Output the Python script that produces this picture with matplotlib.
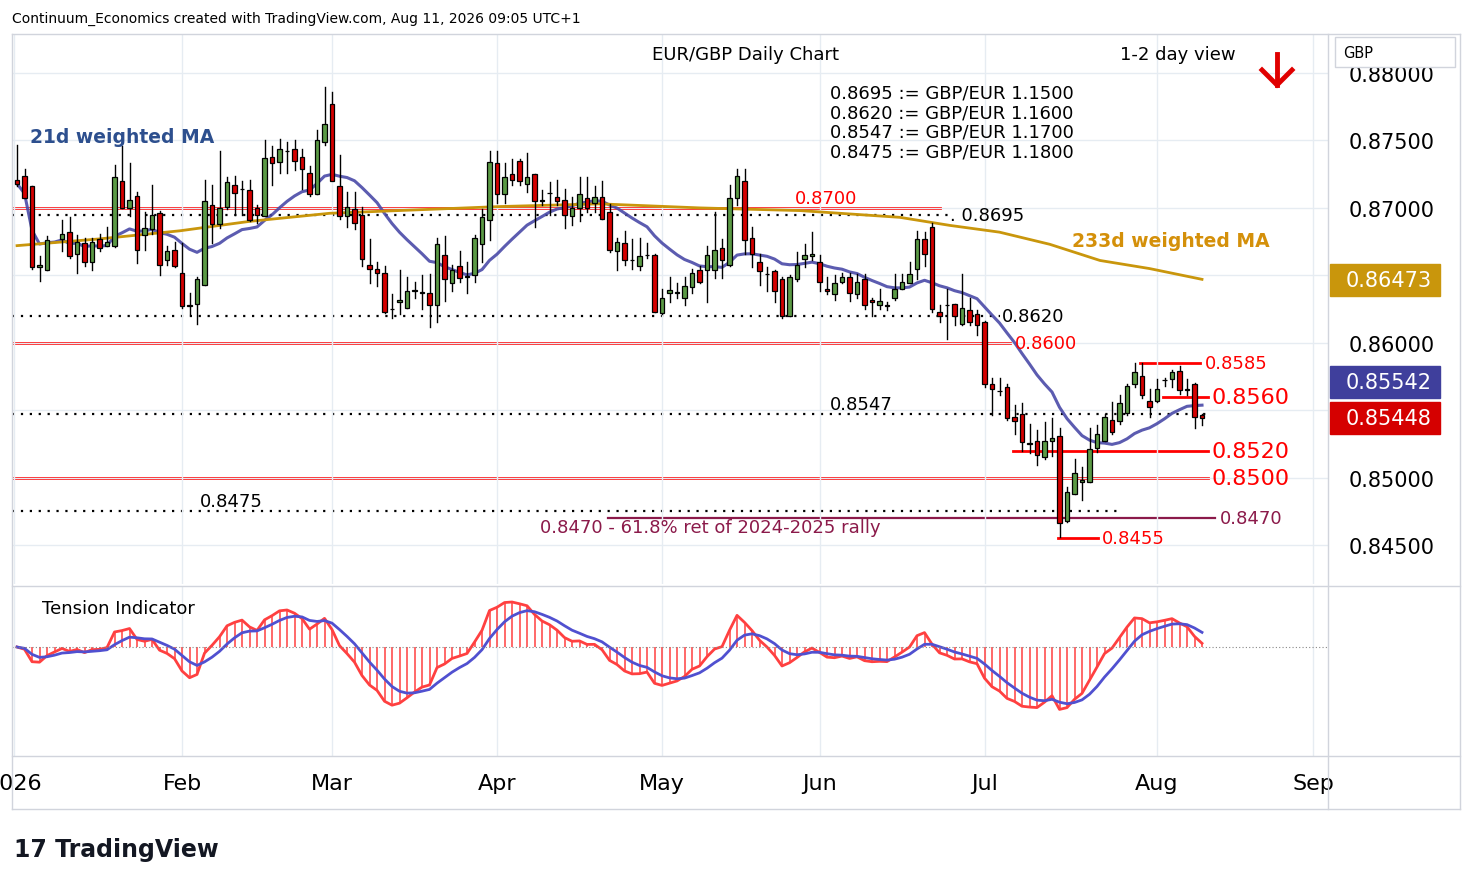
import numpy as np
import pandas as pd
import matplotlib
matplotlib.use("Agg")
import matplotlib.pyplot as plt
from matplotlib.patches import Rectangle

# daily OHLC, EUR/GBP, one row per trading day (None = no candle drawn)
opens = [.8721,.8724,.8716,.8656,.8654,None,.8677,.8682,.8666,.8674,.8660,.8677,.8672,.8672,.8720,.8700,.8709,.8680,.8684,.8696,
         .8661,.8669,.8652,.8628,.8629,.8643,.8702,.8688,.8701,.8717,.8714,.8713,.8700,.8694,.8738,.8734,.8742,.8744,.8738,.8726,
         .8710,.8749,.8777,.8716,.8694,.8699,.8695,.8658,.8655,.8652,.8625,.8630,.8626,.8638,.8637,.8637,.8628,.8665,.8644,.8657,
         .8649,.8650,.8673,.8691,.8733,.8710,.8725,.8735,.8718,.8725,.8705,.8711,.8708,.8706,.8694,.8700,.8707,.8704,.8708,.8697,
         .8668,.8674,.8661,.8657,.8665,.8665,.8622,.8637,.8637,.8633,.8641,.8654,.8654,.8654,.8670,.8658,.8707,.8720,.8678,.8660,
         .8651,.8653,.8647,.8620,.8647,.8662,.8664,.8660,.8640,.8636,.8645,.8649,.8636,.8647,.8632,.8628,.8628,.8633,.8640,.8644,
         .8655,.8677,.8686,.8623,.8628,.8629,.8614,.8624,.8621,.8615,.8569,.8564,.8567,.8545,.8547,.8525,.8527,.8515,.8527,.8531,
         .8468,.8488,.8497,.8497,.8522,.8527,.8543,.8542,.8548,.8569,.8575,.8557,.8557,.8572,.8573,.8579,.8565,.8569,.8546]
closes = [.8718,.8707,.8656,.8658,.8676,None,.8681,.8664,.8675,.8660,.8675,.8670,.8675,.8723,.8700,.8706,.8669,.8685,.8695,.8658,
          .8668,.8657,.8627,.8627,.8647,.8705,.8688,.8700,.8719,.8711,.8714,.8691,.8695,.8737,.8733,.8744,.8742,.8735,.8729,.8710,
          .8750,.8762,.8720,.8694,.8701,.8689,.8662,.8655,.8652,.8623,.8625,.8632,.8638,.8639,.8637,.8628,.8673,.8647,.8654,.8648,
          .8649,.8678,.8693,.8734,.8710,.8723,.8721,.8720,.8723,.8705,.8706,.8711,.8705,.8695,.8700,.8710,.8700,.8708,.8692,.8669,
          .8675,.8661,.8661,.8664,.8665,.8623,.8633,.8639,.8637,.8642,.8652,.8645,.8665,.8669,.8661,.8707,.8724,.8676,.8666,.8653,
          .8651,.8638,.8620,.8649,.8658,.8665,.8666,.8645,.8638,.8644,.8649,.8637,.8645,.8628,.8630,.8631,.8627,.8640,.8645,.8651,
          .8677,.8666,.8625,.8620,.8628,.8620,.8626,.8615,.8613,.8569,.8566,.8564,.8544,.8542,.8526,.8525,.8517,.8527,.8529,.8466,
          .8489,.8503,.8498,.8521,.8532,.8545,.8534,.8555,.8568,.8578,.8561,.8552,.8566,.8572,.8578,.8565,.8565,.8545,.8544]
highs = [.8747,.8729,.8716,.8664,.8679,None,.8691,.8693,.8680,.8678,.8678,.8681,.8686,.8732,.8746,.8733,.8712,.8697,.8717,.8698,
         .8672,.8675,.8674,.8637,.8649,.8721,.8717,.8742,.8723,.8724,.8720,.8721,.8702,.8750,.8746,.8751,.8749,.8750,.8744,.8731,
         .8758,.8790,.8786,.8739,.8712,.8712,.8701,.8677,.8660,.8657,.8636,.8654,.8649,.8645,.8650,.8651,.8678,.8679,.8658,.8668,
         .8660,.8680,.8699,.8742,.8742,.8733,.8736,.8736,.8741,.8725,.8713,.8719,.8721,.8714,.8708,.8723,.8723,.8716,.8720,.8703,
         .8678,.8683,.8677,.8678,.8674,.8666,.8640,.8649,.8644,.8649,.8655,.8657,.8672,.8697,.8677,.8717,.8729,.8729,.8686,.8666,
         .8656,.8654,.8649,.8650,.8667,.8673,.8682,.8665,.8649,.8650,.8652,.8652,.8651,.8651,.8633,.8640,.8630,.8651,.8651,.8660,
         .8683,.8682,.8689,.8628,.8640,.8629,.8651,.8633,.8624,.8616,.8574,.8574,.8569,.8554,.8555,.8540,.8535,.8541,.8544,.8537,
         .8493,.8514,.8508,.8537,.8539,.8547,.8556,.8561,.8569,.8585,.8585,.8566,.8573,.8574,.8580,.8583,.8573,.8570,.8547]
lows = [.8716,.8707,.8655,.8646,.8654,None,.8668,.8663,.8652,.8657,.8654,.8668,.8672,.8671,.8700,.8694,.8659,.8669,.8681,.8650,
        .8658,.8656,.8626,.8621,.8614,.8643,.8674,.8685,.8699,.8695,.8695,.8690,.8689,.8694,.8717,.8726,.8726,.8728,.8714,.8709,
        .8710,.8747,.8721,.8692,.8686,.8684,.8657,.8644,.8642,.8622,.8618,.8621,.8626,.8633,.8625,.8612,.8615,.8631,.8638,.8645,
        .8637,.8645,.8660,.8676,.8704,.8704,.8717,.8717,.8712,.8686,.8702,.8695,.8702,.8685,.8687,.8690,.8697,.8697,.8692,.8667,
        .8654,.8658,.8655,.8654,.8663,.8623,.8621,.8630,.8633,.8628,.8637,.8644,.8630,.8648,.8648,.8657,.8702,.8666,.8656,.8643,
        .8638,.8630,.8618,.8620,.8646,.8656,.8661,.8638,.8636,.8632,.8644,.8631,.8633,.8625,.8620,.8625,.8624,.8632,.8640,.8644,
        .8647,.8657,.8623,.8615,.8603,.8613,.8613,.8613,.8606,.8567,.8546,.8561,.8543,.8532,.8520,.8518,.8509,.8514,.8516,.8456,
        .8467,.8488,.8483,.8497,.8519,.8527,.8532,.8540,.8546,.8567,.8559,.8545,.8556,.8568,.8567,.8562,.8561,.8537,.8539]

# 233d weighted MA at a few days (day index, value)
ma233_days = [0, 11, 21.7, 31, 41.7, 64.4, 77.7, 91, 104.4, 117.7, 124.4, 131, 137.7, 144.4, 151, 158]
ma233_vals = [.8672, .8677, .8683, .8690, .8696, .8701, .8703, .8700, .8698, .8693, .8687, .8682, .8673, .8661, .8655, .8647]

months = ["2026", "Feb", "Mar", "Apr", "May", "Jun", "Jul", "Aug", "Sep"]
month_pos = [-0.4, 22, 42, 64, 86, 107, 129, 152, 172.8]
price_ticks = [0.845, 0.850, 0.860, 0.870, 0.875, 0.880]   # 0.855/0.865 hidden by value boxes
last_labels = ["0.86473", "0.85542", "0.85448"]

df = pd.DataFrame({"o": opens, "h": highs, "l": lows, "c": closes}, dtype=float)
n = len(df)
idx = np.arange(n)

# 21d weighted MA (shorter window at the start)
c = df["c"].ffill().values
wma = np.empty(n)
for i in range(n):
    w = np.arange(1, min(21, i + 1) + 1)
    seg = c[i - len(w) + 1:i + 1]
    wma[i] = np.sum(seg * w) / w.sum()

# tension indicator
tens = pd.Series(c - wma).ewm(span=5).mean()
tens_sig = tens.ewm(span=6).mean()

W, H = 1474, 887
fig = plt.figure(figsize=(W / 100, H / 100), dpi=100)
fig.patch.set_facecolor("white")

def fx(px):
    return px / W

def fy(py):
    return 1 - py / H

ax = fig.add_axes([fx(12), fy(585), fx(1316), (585 - 35) / H])
ax2 = fig.add_axes([fx(12), fy(757), fx(1316), (757 - 588) / H], sharex=ax)

xmin, xmax = -0.67, 174.8
grid_c = "#e6ecf2"

for i in range(n):
    if np.isnan(df.o[i]):
        continue
    o, h, l, cl = df.o[i], df.h[i], df.l[i], df.c[i]
    col = "#5b9a45" if cl >= o else "#d50000"
    ax.plot([i, i], [l, h], color="black", lw=1, zorder=3)
    body = max(abs(cl - o), 0.00003)
    ax.add_patch(Rectangle((i - 0.3, min(o, cl)), 0.6, body, facecolor=col,
                           edgecolor="black", lw=0.9, zorder=4))

ax.plot(idx, wma, color="#4a4aa8", lw=2.2, alpha=0.9, zorder=2)
ax.plot(ma233_days, ma233_vals, color="#c9960c", lw=2, zorder=2)

def xi(px):
    return (px - 17) / 7.5

def hline(p, x0, x1, **kw):
    ax.plot([xi(x0), xi(x1)], [p, p], **kw)

dot = dict(color="black", lw=1.6, ls=(0, (1, 3)), zorder=1.5)
red = dict(color="#ff0000", lw=2, zorder=1.5)
hline(0.8700, 12, 940, **red)
hline(0.8695, 12, 950, **dot)
hline(0.8620, 12, 1000, **dot)
hline(0.8600, 12, 1010, **red)
hline(0.8585, 1140, 1200, **red)
hline(0.8560, 1163, 1208, **red)
hline(0.8547, 12, 1210, **dot)
hline(0.8520, 1013, 1208, **red)
hline(0.8500, 12, 1208, **red)
hline(0.8475, 12, 1120, **dot)
hline(0.8470, 608, 1215, color="#8b1a4a", lw=1.6, zorder=1.5)
hline(0.8455, 1058, 1098, **red)

def lab(px, p, s, color="black", size=12.5, va="center", **kw):
    ax.text(xi(px), p, s, color=color, fontsize=size, va=va, ha="left", **kw)

lab(795, 0.8701, "0.8700", "#ff0000", 13, va="bottom")
lab(950, 0.8695, ". 0.8695", "black", 13)
lab(1002, 0.8620, "0.8620", "black", 13)
lab(1015, 0.8600, "0.8600", "#ff0000", 13)
lab(1205, 0.8585, "0.8585", "#ff0000", 13)
lab(1211, 0.8560, "0.8560", "#ff0000", 16)
lab(830, 0.8548, "0.8547", "black", 13, va="bottom")
lab(1211, 0.8520, "0.8520", "#ff0000", 16)
lab(1211, 0.8500, "0.8500", "#ff0000", 16)
lab(200, 0.8476, "0.8475", "black", 13, va="bottom")
lab(1220, 0.8470, "0.8470", "#8b1a4a", 13)
lab(1102, 0.8455, "0.8455", "#ff0000", 13)
lab(540, 0.8463, "0.8470 - 61.8% ret of 2024-2025 rally", "#8b1a4a", 13, va="center")

ax.text(xi(830), 0.8792, "0.8695 := GBP/EUR 1.1500\n0.8620 := GBP/EUR 1.1600\n"
        "0.8547 := GBP/EUR 1.1700\n0.8475 := GBP/EUR 1.1800",
        fontsize=13, va="top", ha="left", linespacing=1.1)
lab(30, 0.8753, "21d weighted MA", "#2d4f8e", 13.5, fontweight="bold")
lab(1072, 0.8676, "233d weighted MA", "#d4900a", 13.5, fontweight="bold")

ax.set_xlim(xmin, xmax)
ax.set_ylim(0.8421, 0.8829)
ax.yaxis.tick_right()
ax.set_yticks(price_ticks)
ax.set_yticklabels([f"{t:.5f}" for t in price_ticks], fontsize=15)
ax.set_yticks([0.855, 0.865], minor=True)
ax.tick_params(axis="y", which="both", length=0, pad=15)
ax.tick_params(axis="x", length=0, labelbottom=False)
ax.set_xticks(month_pos)
ax.grid(True, which="both", color=grid_c, lw=1)
for s in ax.spines.values():
    s.set_visible(False)

# tension panel
ax2.vlines(idx, 0, tens, color="#ff4040", lw=1.1)
ax2.plot(idx, tens, color="#ff4040", lw=2)
ax2.plot(idx, tens_sig, color="#5050d0", lw=2)
ax2.axhline(0, color="#888888", lw=0.8, ls=(0, (1, 2)))
top = tens.max() * 60 / 45
ax2.set_ylim(-top * 109 / 60, top)
ax2.set_yticks([])
ax2.set_xticks(month_pos)
ax2.set_xticklabels(months, fontsize=16)
ax2.tick_params(axis="x", length=0, pad=12)
ax2.grid(True, axis="x", color=grid_c, lw=1)
for s in ax2.spines.values():
    s.set_visible(False)
ax2.text(30 / 1316, 0.93, "Tension Indicator", transform=ax2.transAxes, fontsize=13,
         va="top", ha="left")

# frame lines
def fline(x0, y0, x1, y1, c="#d1d4dc"):
    fig.add_artist(plt.Line2D([fx(x0), fx(x1)], [fy(y0), fy(y1)], color=c, lw=1))

fline(12, 35, 1460, 35)
fline(12, 810, 1460, 810)
fline(12, 35, 12, 810)
fline(1460, 35, 1460, 810)
fline(1328, 35, 1328, 810)
fline(12, 587, 1460, 587)
fline(12, 757, 1460, 757)

# last value boxes on the price axis (placed like TradingView, pushed apart)
for s, yc, fc in zip(last_labels, [281, 383, 419], ["#c9960c", "#3f3f9c", "#d50000"]):
    fig.add_artist(Rectangle((fx(1330), fy(yc + 16)), fx(110), 32 / H, fc=fc, ec=fc, zorder=20))
    fig.text(fx(1346), fy(yc), s, fontsize=15, color="white", va="center", ha="left", zorder=21)

fig.text(fx(12), fy(19), "Continuum_Economics created with TradingView.com, Aug 11, 2026 09:05 UTC+1",
         fontsize=10, va="center", ha="left")
fig.text(fx(745), fy(55), "EUR/GBP Daily Chart", fontsize=13, va="center", ha="center")
fig.text(fx(1178), fy(55), "1-2 day view", fontsize=13, va="center", ha="center")
# red down arrow
fig.add_artist(plt.Line2D([fx(1277), fx(1277)], [fy(55), fy(86)], color="#e00000", lw=3.5))
fig.add_artist(plt.Line2D([fx(1262), fx(1277), fx(1292)], [fy(71), fy(86), fy(71)],
                          color="#e00000", lw=3.5, solid_joinstyle="miter"))
fig.add_artist(Rectangle((fx(1335), fy(68)), fx(120), 30 / H, fc="white", ec="#d1d4dc", lw=1,
                         zorder=20))
fig.text(fx(1358), fy(54), "GBP", fontsize=10.5, va="center", ha="center", zorder=21)
fig.text(fx(14), fy(850), "17 TradingView", fontsize=17, fontweight="bold", va="center", ha="left",
         color="#131722")

fig.savefig("out.png", dpi=100)
